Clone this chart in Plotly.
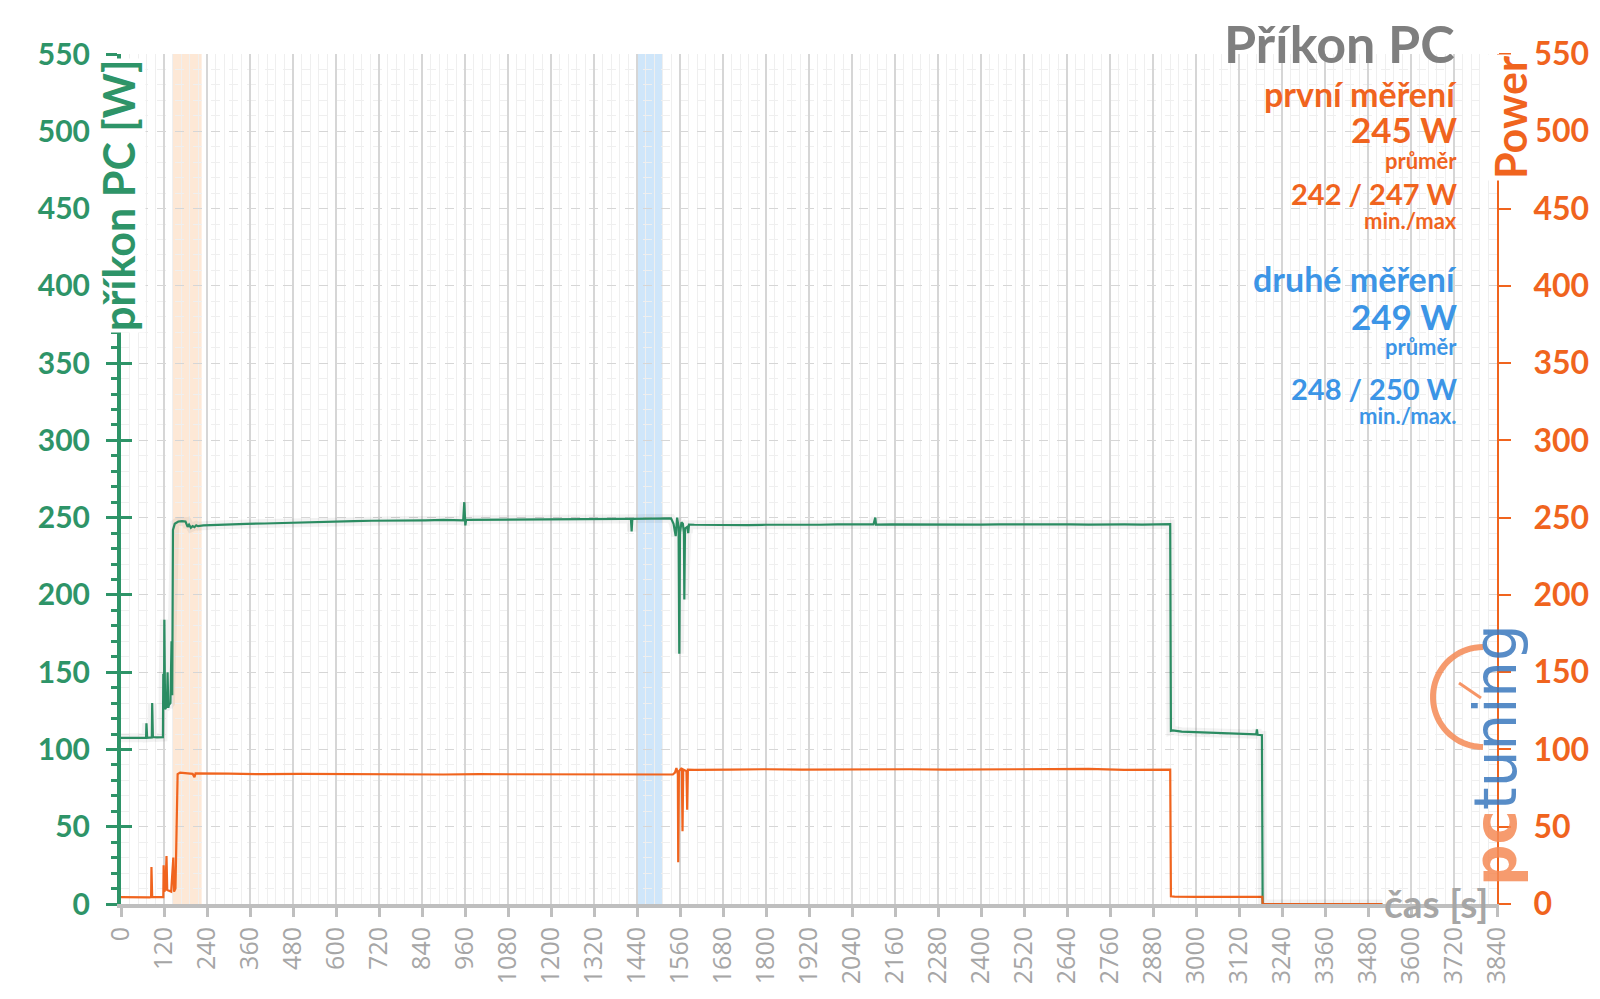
import numpy as np
import plotly.graph_objects as go

# ---------------- data ----------------
t_pc = [0, 30, 60, 70, 71, 73, 86, 87, 89, 100, 117, 118, 120, 121, 123, 125, 128, 130, 132,
        134, 138, 141, 143, 145, 150, 160, 170, 180, 186, 190, 195, 200, 205, 210, 215, 230,
        260, 300, 350, 400, 450, 500, 550, 600, 650, 700, 750, 800, 850, 900, 955, 958, 960,
        961, 963, 1000, 1050, 1100, 1150, 1200, 1250, 1300, 1350, 1400, 1423, 1425, 1427,
        1460, 1500, 1535, 1542, 1548, 1552, 1556, 1558, 1560, 1564, 1568, 1571, 1572, 1574,
        1580, 1583, 1585, 1600, 1650, 1700, 1750, 1800, 1850, 1900, 1950, 2000, 2050, 2100,
        2105, 2107, 2150, 2200, 2250, 2300, 2350, 2400, 2450, 2500, 2550, 2600, 2650, 2700,
        2750, 2800, 2850, 2900, 2928, 2930, 2935, 2960, 3000, 3050, 3100, 3150, 3168, 3170,
        3172, 3184, 3186, 3250, 3350, 3450, 3520]
v_pc = [107.5, 107.5, 107.8, 107.5, 117, 107.5, 107.8, 130, 108, 107.8, 108, 149, 126, 184,
        126, 127, 128, 150, 127, 129, 130, 170, 135, 242, 246, 247.5, 247.8, 247.5, 244, 245.5,
        243.5, 244.5, 243.8, 245, 244.5, 245, 245.3, 245.6, 246, 246.2, 246.6, 247, 247.2,
        247.6, 247.8, 248, 248, 248.2, 248.2, 248.5, 248.3, 260, 248.3, 245, 248.5, 248.6,
        248.6, 248.7, 248.8, 249, 249, 249, 249.1, 249.2, 249.2, 241, 249.2, 249.4, 249.5,
        249.5, 246, 238, 250, 244, 162, 240, 247, 246, 240, 197, 243, 244, 240, 245.5, 245.4,
        245.2, 245, 245.2, 245.4, 245.3, 245.5, 245.4, 245.6, 245.5, 245.6, 250, 245.5, 245.7,
        245.6, 245.5, 245.7, 245.6, 245.5, 245.6, 245.7, 245.5, 245.6, 245.6, 245.5, 245.7,
        245.6, 245.5, 245.6, 245.8, 112, 112.3, 111.5, 111.2, 110.8, 110.5, 110.2, 109.8,
        113, 109.5, 109.2, 0, 0, 0, 0, 0]

t_gpu = [0, 40, 80, 84, 85, 87, 118, 119, 121, 124, 127, 129, 140, 146, 148, 152, 158, 165,
         200, 205, 208, 300, 400, 500, 600, 700, 800, 900, 1000, 1100, 1200, 1300, 1400, 1500,
         1540, 1546, 1550, 1554, 1555, 1557, 1565, 1567, 1569, 1578, 1580, 1582, 1600, 1700,
         1800, 1900, 2000, 2100, 2200, 2300, 2400, 2500, 2600, 2700, 2800, 2900, 2928, 2930,
         2940, 3000, 3100, 3185, 3186, 3300, 3400, 3520]
v_gpu = [4.5, 4.2, 4.3, 4.5, 24, 4.5, 4.5, 25, 8, 10, 31, 9, 8, 30, 8, 10, 84, 85, 84.2, 82,
         84.5, 84.3, 84, 84.2, 84, 84.1, 84, 83.8, 84, 83.9, 84, 83.8, 83.7, 83.8, 83.8, 85,
         88, 84, 27, 86, 88, 47, 87, 86, 61, 87, 86.8, 87, 87.2, 86.9, 87.1, 87, 87.2, 87,
         87.1, 87, 87.2, 87.4, 86.8, 87.2, 87, 5, 4.8, 4.6, 4.6, 4.6, 0, 0, 0, 0]

band_first = [145, 225]
band_second = [1439, 1510]

x_ticks = list(range(0, 3841, 120))
y_ticks = list(range(0, 551, 50))

GREEN = "#2E9468"
ORANGE = "#F0641E"
BLUE = "#3C95E6"
GRAY = "#7F7F7F"
FONT = "Lato"

# plot area in pixels
L, R, T, B = 121, 1497, 54, 904
W, H = R - L, B - T


def px2paper(X, Y):
    return (X - L) / W, (B - Y) / H


fig = go.Figure()

# shaded bands
fig.add_vrect(x0=band_first[0], x1=band_first[1], fillcolor="rgba(250,205,165,0.45)",
              line_width=0, layer="below")
fig.add_vrect(x0=band_second[0], x1=band_second[1], fillcolor="rgba(160,205,245,0.5)",
              line_width=0, layer="below")

# shadow (on helper axis y3 with identical scale) + series
fig.add_trace(go.Scatter(x=t_pc, y=v_pc, mode="lines", yaxis="y3",
                         line=dict(color="rgba(0,0,0,0.05)", width=9),
                         hoverinfo="skip", showlegend=False))
fig.add_trace(go.Scatter(x=t_pc, y=v_pc, mode="lines", name="příkon PC",
                         line=dict(color=GREEN, width=2.2), showlegend=False))
fig.add_trace(go.Scatter(x=t_gpu, y=v_gpu, mode="lines", name="Power", yaxis="y2",
                         line=dict(color=ORANGE, width=2.2), showlegend=False))

fig.update_layout(
    width=1600, height=999,
    margin=dict(l=L, r=1600 - R, t=T, b=999 - B),
    paper_bgcolor="white", plot_bgcolor="white",
    font=dict(family=FONT),
    xaxis=dict(range=[0, 3840], tickvals=x_ticks, ticktext=[str(v) for v in x_ticks],
               tickangle=-90, tickfont=dict(size=25, color="#A6A6A6", family="Open Sans"),
               showline=True, linecolor="#BFBFBF", linewidth=4,
               ticks="outside", ticklen=9, tickwidth=3, tickcolor="#BFBFBF",
               showgrid=True, gridcolor="#D6D6D6", gridwidth=1.5,
               minor=dict(dtick=24, tick0=0, showgrid=True, gridcolor="#EFEFEF", gridwidth=1),
               zeroline=False),
    yaxis=dict(range=[0, 550], tickvals=y_ticks,
               tickfont=dict(size=30, color=GREEN, family=FONT, weight="bold"),
               showline=True, linecolor=GREEN, linewidth=4,
               ticks="outside", ticklen=11, tickwidth=3, tickcolor=GREEN,
               ticklabelstandoff=10,
               showgrid=True, gridcolor="#D6D6D6", gridwidth=1.2, griddash="dash",
               minor=dict(dtick=10, tick0=0, showgrid=True, gridcolor="#EFEFEF",
                          ticks="outside", ticklen=6, tickwidth=3, tickcolor=GREEN),
               zeroline=False),
    yaxis3=dict(range=[0, 550], tickvals=y_ticks, overlaying="y", side="left",
                ticks="inside", ticklen=11, tickwidth=3, tickcolor=GREEN,
                showticklabels=False, showline=False, showgrid=False, zeroline=False),
    yaxis2=dict(range=[0, 550], tickvals=y_ticks, overlaying="y", side="right",
                tickfont=dict(size=32, color=ORANGE, family=FONT, weight="bold"),
                showline=True, linecolor=ORANGE, linewidth=2,
                ticks="outside", ticklen=12, tickwidth=2, tickcolor=ORANGE,
                ticklabelstandoff=16, showgrid=False, zeroline=False),
)

ann = []
# axis titles
ann.append(dict(xref="paper", yref="paper", x=px2paper(118, 0)[0], y=px2paper(0, 196)[1],
                text="<b>příkon PC [W]</b>", textangle=-90, showarrow=False,
                font=dict(size=43, color=GREEN, family=FONT), bgcolor="white",
                xanchor="center", yanchor="middle"))
ann.append(dict(xref="paper", yref="paper", x=px2paper(1511, 0)[0], y=px2paper(0, 117)[1],
                text="<b>Power</b>", textangle=-90, showarrow=False,
                font=dict(size=43, color=ORANGE, family=FONT), bgcolor="white",
                xanchor="center", yanchor="middle"))
ann.append(dict(xref="paper", yref="paper", x=px2paper(1491, 0)[0], y=px2paper(0, 903)[1],
                text="<b>čas [s]</b>", showarrow=False,
                font=dict(size=39, color="#A6A6A6", family=FONT),
                xanchor="right", yanchor="middle"))
# title
ann.append(dict(xref="paper", yref="paper", x=px2paper(1456, 0)[0], y=px2paper(0, 43)[1],
                text="<b>Příkon PC</b>", showarrow=False,
                font=dict(size=52, color=GRAY, family=FONT),
                xanchor="right", yanchor="middle", borderpad=0))
# info block
info = [
    ("první měření", 93, 34, ORANGE),
    ("245 W", 129, 35, ORANGE),
    ("průměr", 161, 22, ORANGE),
    ("242 / 247 W", 193, 29, ORANGE),
    ("min./max", 220, 22, ORANGE),
    ("druhé měření", 278, 34, BLUE),
    ("249 W", 316, 35, BLUE),
    ("průměr", 346, 22, BLUE),
    ("248 / 250 W", 388, 29, BLUE),
    ("min./max.", 415, 22, BLUE),
]
for txt, yy, sz, col in info:
    ann.append(dict(xref="paper", yref="paper", x=px2paper(1458, 0)[0], y=px2paper(0, yy)[1],
                    text="<b>" + txt + "</b>", showarrow=False, borderpad=0,
                    font=dict(size=sz, color=col, family=FONT),
                    xanchor="right", yanchor="middle"))
# logo text
ann.append(dict(xref="paper", yref="paper", x=px2paper(1496, 0)[0], y=px2paper(0, 755)[1],
                text="<span style='color:#F58A55'><b>pc</b></span>"
                     "<span style='color:#3A78BE'>tuning</span>",
                textangle=-90, showarrow=False, opacity=0.85,
                font=dict(size=58, family="DejaVu Sans"),
                xanchor="center", yanchor="middle"))
fig.update_layout(annotations=ann)

# logo arc (decoration)
cx, cy, r = 1483, 697, 50
ang = np.linspace(np.pi / 2, 3 * np.pi / 2, 40)
pts = [px2paper(cx + r * np.cos(a), cy - r * np.sin(a)) for a in ang]
path = "M " + " L ".join(f"{p[0]:.5f},{p[1]:.5f}" for p in pts)
fig.add_shape(type="path", path=path, xref="paper", yref="paper",
              line=dict(color="rgba(245,138,85,0.85)", width=6))
n0 = px2paper(1481, 698)
n1 = px2paper(1459, 683)
fig.add_shape(type="line", x0=n0[0], y0=n0[1], x1=n1[0], y1=n1[1], xref="paper", yref="paper",
              line=dict(color="rgba(245,138,85,0.9)", width=3))

fig.write_html("out.html")
